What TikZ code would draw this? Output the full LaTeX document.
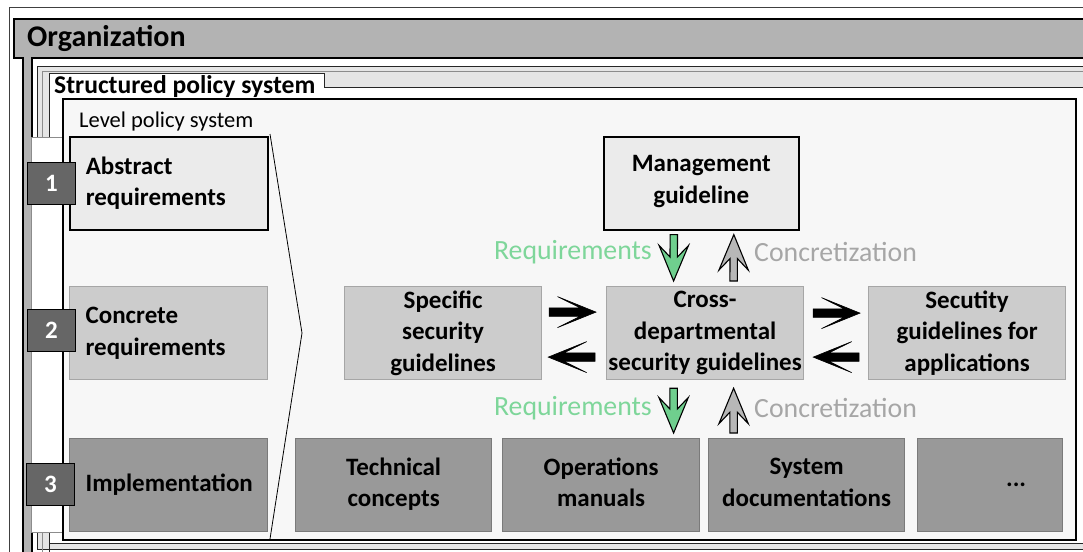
\documentclass[tikz,border=0pt]{standalone}
\usepackage{fontspec}
\setmainfont{Carlito}
\usetikzlibrary{calc}

\definecolor{orggray}{HTML}{B3B3B3}
\definecolor{bandgray}{HTML}{E5E5E5}
\definecolor{panel}{HTML}{F7F7F7}
\definecolor{lvlone}{HTML}{EBEBEB}
\definecolor{lvltwo}{HTML}{CCCCCC}
\definecolor{lvltwoedge}{HTML}{A6A6A6}
\definecolor{lvlthree}{HTML}{999999}
\definecolor{lvlthreeedge}{HTML}{7A7A7A}
\definecolor{badgefill}{HTML}{666666}
\definecolor{reqgreen}{HTML}{7ED69A}
\definecolor{reqfill}{HTML}{6FCF8E}
\definecolor{conctext}{HTML}{A6A6A6}
\definecolor{concfill}{HTML}{B7B7B7}

\tikzset{
  boxfont/.style={font=\fontsize{25}{31.5}\selectfont\bfseries},
  lvlbox/.style={boxfont, anchor=north west, minimum height=93pt,
    text width=166pt, inner xsep=16pt, inner ysep=0pt, align=left},
  cbox/.style={boxfont, anchor=north west, minimum height=93pt,
    inner sep=0pt, align=center},
  topbox/.style={draw=black, line width=1.6pt, fill=lvlone},
  midbox/.style={draw=lvltwoedge, line width=1.2pt, fill=lvltwo},
  lowbox/.style={draw=lvlthreeedge, line width=1.2pt, fill=lvlthree},
  badge/.style={draw=black, line width=1pt, fill=badgefill, text=white,
    font=\fontsize{25}{30}\selectfont\bfseries, anchor=north west,
    minimum width=48pt, minimum height=42pt, inner sep=0pt},
  flowlabel/.style={font=\fontsize{27.8}{30}\selectfont, inner sep=0pt},
  % filled arrow with a swallow-tail head:
  % #1 shaft half width, #2 head half width, #3 neck-to-tip, #4 barb-to-tip
  fat arrow/.style n args={4}{
    to path={
      let \p1=(\tikztostart), \p2=(\tikztotarget),
          \n1={veclen(\x2-\x1,\y2-\y1)},
          \n2={(\x2-\x1)/\n1}, \n3={(\y2-\y1)/\n1}
      in ({\x1-#1*\n3*1pt},{\y1+#1*\n2*1pt})
      -- ({\x2-#3*\n2*1pt-#1*\n3*1pt},{\y2-#3*\n3*1pt+#1*\n2*1pt})
      -- ({\x2-#4*\n2*1pt-#2*\n3*1pt},{\y2-#4*\n3*1pt+#2*\n2*1pt})
      -- (\x2,\y2)
      -- ({\x2-#4*\n2*1pt+#2*\n3*1pt},{\y2-#4*\n3*1pt-#2*\n2*1pt})
      -- ({\x2-#3*\n2*1pt+#1*\n3*1pt},{\y2-#3*\n3*1pt-#1*\n2*1pt})
      -- ({\x1+#1*\n3*1pt},{\y1-#1*\n2*1pt})
      -- cycle
    }
  },
  flowarrow/.style={fill=black, draw=black, line width=0.6pt,
    line join=miter, fat arrow={4.2}{15.5}{15.7}{38.5}},
  reqarrow/.style={fill=reqfill, draw=black, line width=1.1pt,
    line join=miter, fat arrow={3.7}{14.7}{24}{35.5}},
  concarrow/.style={fill=concfill, draw=black, line width=1.1pt,
    line join=miter, fat arrow={3.7}{14.7}{24}{35.5}},
}

\begin{document}
\begin{tikzpicture}[x=1pt, y=-1pt]
\useasboundingbox (0,0) rectangle (1083,551);
\clip (0,0) rectangle (1083,551);
\fill[white] (0,0) rectangle (1083,551);

% outermost frame
\draw[black!75, line width=0.8pt] (9,7) rectangle (1110,600);

% Organization frame: header band and left strip
\draw[fill=orggray, line width=1.2pt, line join=miter]
  (14,19) -- (1110,19) -- (1110,58) -- (32,58) -- (32,600)
  -- (23,600) -- (23,58) -- (14,58) -- cycle;
\node[font=\fontsize{30}{33}\selectfont\bfseries, anchor=base west, inner sep=0pt]
  (org) at (27,47) {Organization};

% Structured policy system frame with its label tab
\draw[fill=bandgray, draw=black!85, line width=0.9pt] (37,66) rectangle (1110,549);
\draw[black!45, line width=0.6pt] (42,600) -- (42,71) -- (1110,71);
\draw[fill=white, draw=black!85, line width=0.9pt, line join=miter]
  (49,600) -- (49,73) -- (324,73) -- (324,87) -- (1110,87) -- (1110,543) -- (49,543);
\node[font=\fontsize{25.6}{28}\selectfont\bfseries, anchor=base west, inner sep=0pt]
  (sps) at (54,93) {Structured policy system};

% white column behind the level badges
\draw[fill=white, draw=black!45, line width=0.6pt] (31,137) rectangle (63,532);

% Level policy system panel
\draw[fill=panel, draw=black, line width=2.2pt] (63,99) rectangle (1076,540);
\node[font=\fontsize{22.5}{25}\selectfont, anchor=base west, inner sep=0pt]
  (lps) at (79,127) {Level policy system};

% level column
\node[lvlbox, topbox] (abs) at (69,136) {Abstract\\requirements};
\node[lvlbox, midbox] (con) at (69,286) {Concrete\\requirements};
\node[lvlbox, lowbox] (imp) at (69,438) {Implementation};

\node[badge] (b1) at (27,162) {1};
\node[badge] (b2) at (27,308.5) {2};
\node[badge] (b3) at (26,462.5) {3};

% bracket spanning the three levels
\draw[line width=0.8pt] (270,134) -- (302,333) -- (270,539);

% guideline documents
\node[cbox, topbox, minimum width=195pt, text depth=8pt] (mg) at (603,136) {Management\\guideline};
\node[cbox, midbox, minimum width=197pt] (ssg) at (344,286) {Specific\\security\\guidelines};
\node[cbox, midbox, minimum width=197pt] (cd) at (606,286) {Cross-\\departmental\\security guidelines};
\node[cbox, midbox, minimum width=197pt] (sga) at (868,286) {Secutity\\guidelines for\\applications};

\node[cbox, lowbox, minimum width=196pt, text depth=6pt] (tc) at (295,438) {Technical\\concepts};
\node[cbox, lowbox, minimum width=197pt, text depth=6pt] (om) at (502,438) {Operations\\manuals};
\node[cbox, lowbox, minimum width=196pt, text depth=6pt] (sd) at (708,438) {System\\documentations};
\node[cbox, lowbox, minimum width=145pt] (more) at (917,438) {\hspace*{52pt}...};

% exchange between the guideline documents
\draw[flowarrow] ($(ssg.east)+(7,-21)$) to ($(cd.west)+(-10,-21)$);
\draw[flowarrow] ($(cd.west)+(-11,24)$) to ($(ssg.east)+(6,24)$);
\draw[flowarrow] ($(cd.east)+(9,-20)$) to ($(sga.west)+(-8,-20)$);
\draw[flowarrow] ($(sga.west)+(-9,24)$) to ($(cd.east)+(9,24)$);

% requirements down, concretization up
\draw[reqarrow] ($(mg.south)+(-27.5,4)$) to ($(cd.north)+(-31.5,-5)$);
\draw[concarrow] ($(cd.north)+(28.5,-5)$) to ($(mg.south)+(32.5,4)$);
\draw[reqarrow] ($(cd.south)+(-31.5,8)$) to ($(om.north)+(72.5,-5)$);
\draw[concarrow] ($(sd.north)+(-73,-5)$) to ($(cd.south)+(28.5,8)$);

\node[flowlabel, text=reqgreen, anchor=base east] (rq1) at (652,259) {Requirements};
\node[flowlabel, text=conctext, anchor=base west] (cc1) at (754,261) {Concretization};
\node[flowlabel, text=reqgreen, anchor=base east] (rq2) at (652,415) {Requirements};
\node[flowlabel, text=conctext, anchor=base west] (cc2) at (754,417) {Concretization};
\end{tikzpicture}
\end{document}
